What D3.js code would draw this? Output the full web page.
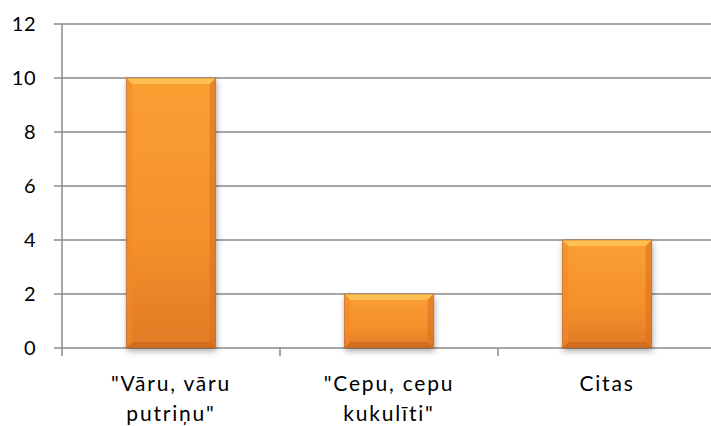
<!DOCTYPE html>
<html>
<head>
<meta charset="utf-8">
<script src="https://cdn.jsdelivr.net/npm/d3@7"></script>
<style>
  body { margin: 0; background: #fff; }
  text { font-family: Lato, "Open Sans", sans-serif; fill: #000; }
</style>
</head>
<body>
<div id="chart"></div>
<script>
var categories = [['"Vāru, vāru', 'putriņu"'], ['"Cepu, cepu', 'kukulīti"'], ['Citas']];
var values = [10, 2, 4];
var yTicks = [0, 2, 4, 6, 8, 10, 12];

var width = 711, height = 426;
var margin = { top: 24, right: -5, bottom: 78, left: 62 };
var chartW = width - margin.left - margin.right;
var chartH = height - margin.top - margin.bottom;

var svg = d3.select('#chart').append('svg')
  .attr('width', width).attr('height', height);

var defs = svg.append('defs');
var grad = defs.append('linearGradient').attr('id', 'barFill')
  .attr('x1', 0).attr('y1', 0).attr('x2', 0).attr('y2', 1);
grad.append('stop').attr('offset', '0%').attr('stop-color', '#fb9f33');
grad.append('stop').attr('offset', '60%').attr('stop-color', '#f5902c');
grad.append('stop').attr('offset', '100%').attr('stop-color', '#e27a26');

var shadow = defs.append('filter').attr('id', 'shadow')
  .attr('x', '-20%').attr('y', '-10%').attr('width', '140%').attr('height', '130%');
shadow.append('feDropShadow').attr('dx', 1).attr('dy', 3).attr('stdDeviation', 3)
  .attr('flood-color', '#000').attr('flood-opacity', 0.35);

var g = svg.append('g').attr('transform', 'translate(' + margin.left + ',' + margin.top + ')');

var y = d3.scaleLinear().domain([0, 12]).range([chartH, 0]);
var x = d3.scaleBand().domain(d3.range(categories.length)).range([0, chartW])
  .paddingInner(0.59).paddingOuter(0.295);
var step = x.step();

// gridlines
g.append('g').selectAll('line').data(yTicks).enter().append('line')
  .attr('x1', -8).attr('x2', chartW)
  .attr('y1', function(d) { return y(d); }).attr('y2', function(d) { return y(d); })
  .attr('stroke', '#8a8a8a').attr('stroke-width', 1.5);

// y axis line
g.append('line').attr('x1', 0).attr('x2', 0).attr('y1', 0).attr('y2', chartH + 8)
  .attr('stroke', '#8a8a8a').attr('stroke-width', 1.5);

// bottom ticks between categories
g.append('g').selectAll('line').data(d3.range(1, categories.length)).enter().append('line')
  .attr('x1', function(d) { return d * step; }).attr('x2', function(d) { return d * step; })
  .attr('y1', chartH).attr('y2', chartH + 8)
  .attr('stroke', '#8a8a8a').attr('stroke-width', 1.5);

// y labels
g.append('g').selectAll('text').data(yTicks).enter().append('text')
  .attr('x', -26).attr('y', function(d) { return y(d); })
  .attr('dy', '0.36em').attr('text-anchor', 'end')
  .style('font-size', '20px').style('letter-spacing', '0.5px')
  .text(function(d) { return d; });

// bars
var bars = g.append('g').selectAll('g').data(values).enter().append('g')
  .attr('transform', function(d, i) { return 'translate(' + x(i) + ',' + y(d) + ')'; });

var bw = x.bandwidth();
var bv = 6;
bars.append('rect')
  .attr('width', bw).attr('height', function(d) { return chartH - y(d); })
  .attr('fill', 'url(#barFill)').attr('filter', 'url(#shadow)');

// bevel: top highlight
bars.append('path')
  .attr('d', 'M0,0 L' + bw + ',0 L' + (bw - bv) + ',' + bv + ' L' + bv + ',' + bv + ' Z')
  .attr('fill', '#ffc85a').attr('opacity', 0.8);
// bevel: bottom shade
bars.append('path')
  .attr('d', function(d) {
    var h = chartH - y(d);
    return 'M0,' + h + ' L' + bw + ',' + h + ' L' + (bw - bv) + ',' + (h - bv) + ' L' + bv + ',' + (h - bv) + ' Z';
  })
  .attr('fill', '#c9661d').attr('opacity', 0.7);
// bevel: sides
bars.append('path')
  .attr('d', function(d) {
    var h = chartH - y(d);
    return 'M' + bw + ',0 L' + bw + ',' + h + ' L' + (bw - bv) + ',' + (h - bv) + ' L' + (bw - bv) + ',' + bv + ' Z';
  })
  .attr('fill', '#d9731f').attr('opacity', 0.6);
bars.append('path')
  .attr('d', function(d) {
    var h = chartH - y(d);
    return 'M0,0 L0,' + h + ' L' + bv + ',' + (h - bv) + ' L' + bv + ',' + bv + ' Z';
  })
  .attr('fill', '#f08a28').attr('opacity', 0.6);
// dark outline edges
bars.append('rect')
  .attr('width', bw).attr('height', function(d) { return chartH - y(d); })
  .attr('fill', 'none').attr('stroke', '#a5561a').attr('stroke-width', 0.8).attr('stroke-opacity', 0.6);

// category labels
var labels = g.append('g').selectAll('text').data(categories).enter().append('text')
  .attr('x', function(d, i) { return x(i) + bw / 2; })
  .attr('y', chartH + 43)
  .attr('text-anchor', 'middle')
  .style('font-size', '21px').style('letter-spacing', '1.8px');
labels.selectAll('tspan').data(function(d) { return d; }).enter().append('tspan')
  .attr('x', function() { return d3.select(this.parentNode).attr('x'); })
  .attr('dy', function(d, i) { return i === 0 ? 0 : 30; })
  .text(function(d) { return d; });
</script>
</body>
</html>
